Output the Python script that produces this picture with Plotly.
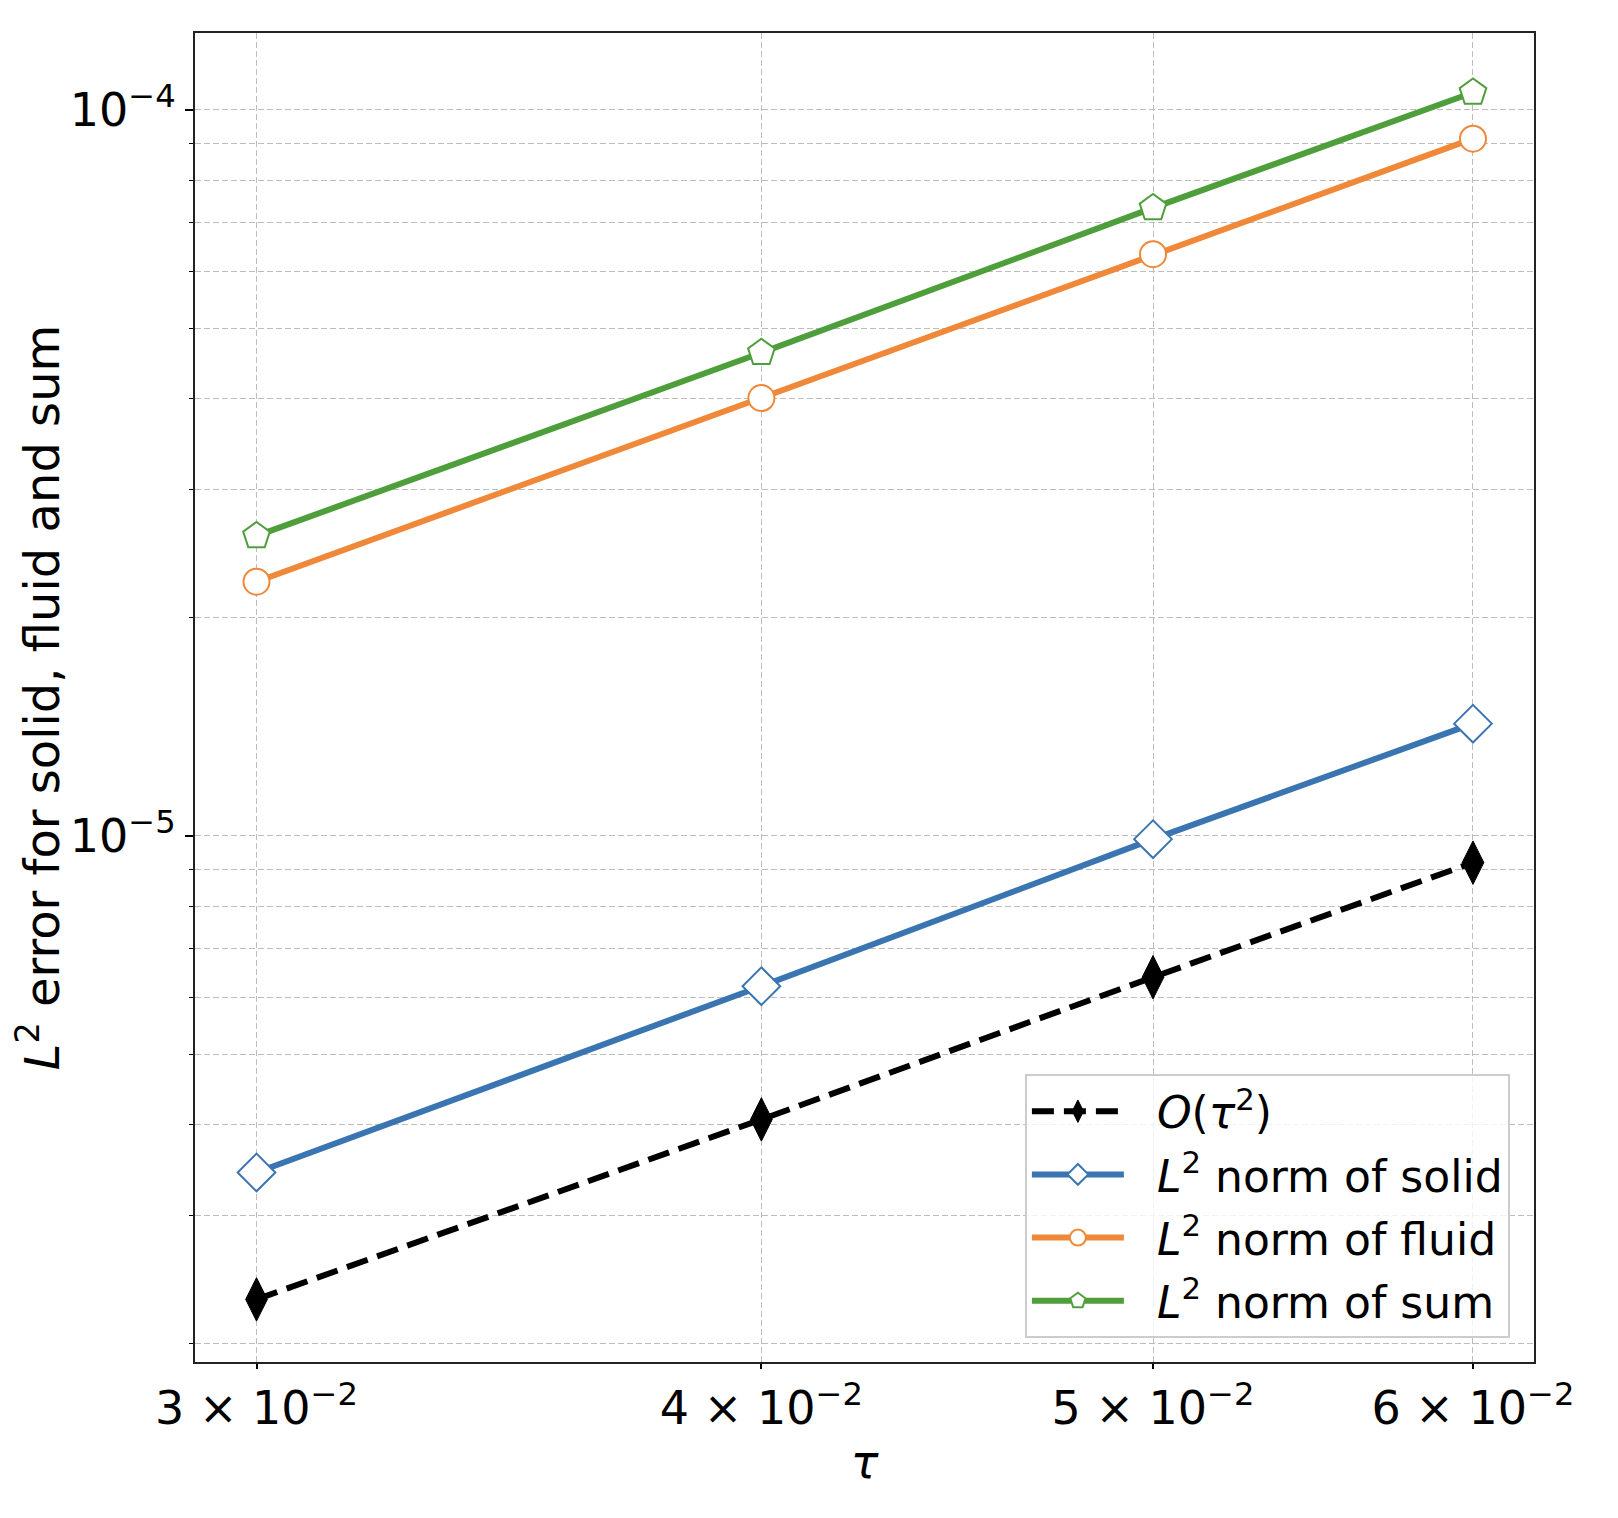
import plotly.graph_objects as go

tau = [0.03, 0.04, 0.05, 0.06]
ref_order2 = [2.30e-6, 4.07e-6, 6.39e-6, 9.19e-6]
err_solid = [3.44e-6, 6.21e-6, 9.90e-6, 1.428e-5]
err_fluid = [2.24e-5, 4.01e-5, 6.33e-5, 9.13e-5]
err_sum = [2.59e-5, 4.63e-5, 7.33e-5, 1.057e-4]

x_tickvals = [0.03, 0.04, 0.05, 0.06]
x_ticktext = ["3 × 10<sup>−2</sup>", "4 × 10<sup>−2</sup>", "5 × 10<sup>−2</sup>", "6 × 10<sup>−2</sup>"]
y_tickvals = [1e-5, 1e-4]
y_ticktext = ["10<sup>−5</sup>", "10<sup>−4</sup>"]
y_minor = [2e-6, 3e-6, 4e-6, 5e-6, 6e-6, 7e-6, 8e-6, 9e-6,
           2e-5, 3e-5, 4e-5, 5e-5, 6e-5, 7e-5, 8e-5, 9e-5]

FONT = "DejaVu Sans"
BLUE = "#3a75b1"
ORANGE = "#f0883a"
GREEN = "#4f9e3c"
GRID = "#bdbdbd"
GRIDDASH = "6px,3px"
PAD = "\u00a0\u00a0"

fig = go.Figure()
fig.add_trace(go.Scatter(
    x=tau, y=ref_order2, mode="lines+markers",
    name=PAD + "<i>O</i>(<i>τ</i><sup>2</sup>)", legendgroup="a",
    line=dict(color="black", width=6, dash="22px,10px"),
    marker=dict(symbol="diamond-tall", size=31, color="black",
                line=dict(color="black", width=1)),
))
fig.add_trace(go.Scatter(
    x=tau, y=err_solid, mode="lines+markers",
    name=PAD + "<i>L</i><sup>2</sup> norm of solid", legendgroup="b",
    line=dict(color=BLUE, width=6),
    marker=dict(symbol="diamond", size=29, color="white",
                line=dict(color=BLUE, width=2)),
))
fig.add_trace(go.Scatter(
    x=tau, y=err_fluid, mode="lines+markers",
    name=PAD + "<i>L</i><sup>2</sup> norm of fluid", legendgroup="c",
    line=dict(color=ORANGE, width=6),
    marker=dict(symbol="circle", size=26, color="white",
                line=dict(color=ORANGE, width=2)),
))
fig.add_trace(go.Scatter(
    x=tau, y=err_sum, mode="lines+markers",
    name=PAD + "<i>L</i><sup>2</sup> norm of sum", legendgroup="d",
    line=dict(color=GREEN, width=6),
    marker=dict(symbol="pentagon", size=28, color="white",
                line=dict(color=GREEN, width=2)),
))

fig.update_layout(
    width=1602, height=1502,
    margin=dict(l=187, r=76, t=25, b=148, pad=0),
    paper_bgcolor="white", plot_bgcolor="white",
    font=dict(family=FONT, size=44, color="black"),
    showlegend=True,
    legend=dict(
        x=0.982, y=0.018, xanchor="right", yanchor="bottom",
        bgcolor="rgba(255,255,255,0.8)", bordercolor="#cccccc", borderwidth=2,
        font=dict(family=FONT, size=44, color="black"),
        itemwidth=92, tracegroupgap=3, traceorder="grouped",
    ),
)
fig.update_xaxes(
    type="log", range=[-1.5381, -1.20675],
    tickvals=x_tickvals, ticktext=x_ticktext,
    tickfont=dict(family=FONT, size=46),
    ticks="outside", ticklen=5, tickwidth=1.5, tickcolor="black",
    showgrid=True, gridcolor=GRID, gridwidth=1.3, griddash=GRIDDASH,
    showline=True, linecolor="#222222", linewidth=2, mirror=True,
    zeroline=False, automargin=False,
    title=dict(text="<i>τ</i>", font=dict(family=FONT, size=46), standoff=8),
)
fig.update_yaxes(
    type="log", range=[-5.7245, -3.894],
    tickvals=y_tickvals, ticktext=y_ticktext,
    tickfont=dict(family=FONT, size=46),
    ticks="outside", ticklen=8, tickwidth=1.5, tickcolor="black",
    showgrid=True, gridcolor=GRID, gridwidth=1.3, griddash=GRIDDASH,
    minor=dict(tickvals=y_minor, ticks="outside", ticklen=4, tickwidth=1.2,
               tickcolor="black", showgrid=True, gridcolor=GRID,
               gridwidth=1.3, griddash=GRIDDASH),
    showline=True, linecolor="#222222", linewidth=2, mirror=True,
    zeroline=False, automargin=False,
    title=dict(text="<i>L</i><sup>2</sup> error for solid, fluid and sum",
               font=dict(family=FONT, size=48), standoff=20),
)

fig.write_html("out.html")
